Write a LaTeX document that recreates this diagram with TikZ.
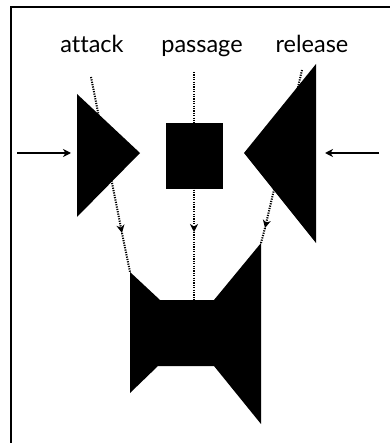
\documentclass[tikz,border=0pt]{standalone}
\usepackage{fontspec}
\setmainfont{Lato}[Ligatures=NoCommon]
\usetikzlibrary{arrows.meta}

\tikzset{
  frameline/.style={line width=2pt},
  label/.style={anchor=base, inner sep=0pt, font=\fontsize{23.5}{26}\selectfont},
  push/.style={line width=1.3pt, -{Stealth[length=8pt,width=8pt,inset=2.5pt]}},
  flow/.style={line width=2pt, dash pattern=on 1.2pt off 1.2pt},
  flowtip/.style={flow, -{Stealth[length=8pt,width=8pt,inset=2.5pt]}},
  block/.style={fill=black, draw=none}
}

\begin{document}
\begin{tikzpicture}[x=1pt,y=-1pt]
\useasboundingbox (0,0) rectangle (390,443);

% corner of the surrounding frame
\draw[frameline] (11,443) -- (11,7) -- (390,7);

% headings
\node[label] (attack)  at (92,53)  {attack};
\node[label] (passage) at (202,53) {passage};
\node[label] (release) at (312,53) {release};

% dotted flow lines (drawn first, the blocks cover them)
\coordinate (a0) at (91,77);
\coordinate (a1) at (122,233);
\coordinate (p0) at (194,72);
\coordinate (p1) at (194,232);
\coordinate (r0) at (302,70);
\coordinate (r1) at (265,228);

% bottom block vertices
\coordinate (b1) at (130,272);
\coordinate (b2) at (160,300);
\coordinate (b3) at (214,300);
\coordinate (b4) at (261,243);
\coordinate (b5) at (261,424);
\coordinate (b6) at (214,366);
\coordinate (b7) at (158,366);
\coordinate (b8) at (130,393);
\coordinate (bt) at (194,300);

\draw[flowtip] (a0) -- (a1);
\draw[flow] (a1) -- (b1);
\draw[flowtip] (p0) -- (p1);
\draw[flow] (p1) -- (bt);
\draw[flowtip] (r0) -- (r1);
\draw[flow] (r1) -- (b4);

% attack triangle
\fill[block] (77,94) -- (140,153) -- (77,217) -- cycle;
% passage square
\node[block, minimum width=57pt, minimum height=66pt, inner sep=0pt] (sq) at (194.5,156) {};
% release triangle
\fill[block] (316,64) -- (244,153) -- (316,243) -- cycle;
% joined block
\fill[block] (b1) -- (b2) -- (b3) -- (b4) -- (b5) -- (b6) -- (b7) -- (b8) -- cycle;

% side pushes
\coordinate (lin) at (17,153);
\coordinate (lend) at (71,153);
\coordinate (rin) at (379,153);
\coordinate (rend) at (325,153);
\draw[push] (lin) -- (lend);
\draw[push] (rin) -- (rend);
\end{tikzpicture}
\end{document}
